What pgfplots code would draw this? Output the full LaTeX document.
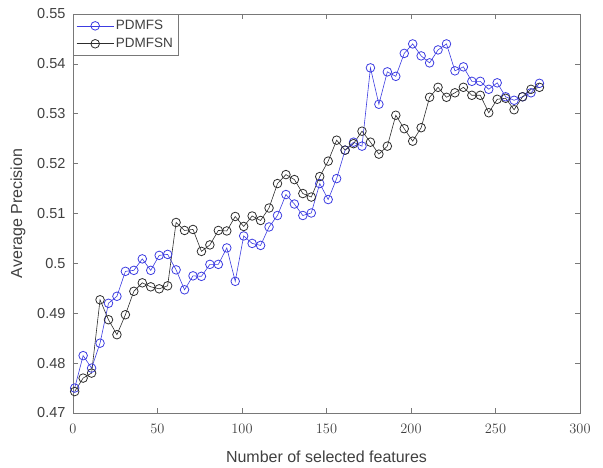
\documentclass[border=0pt]{standalone}
\usepackage{pgfplots}
\pgfplotsset{compat=1.18}
\usepackage{fontspec}
\setmainfont{Liberation Sans}
\definecolor{mblue}{RGB}{60,60,225}
\definecolor{mblack}{RGB}{45,45,45}
\definecolor{axgray}{RGB}{120,120,120}
\pgfplotstableread{
x y
1 0.4750
6 0.4815
11 0.4790
16 0.4840
21 0.4920
26 0.4934
31 0.4984
36 0.4986
41 0.5009
46 0.4986
51 0.5016
56 0.5018
61 0.4987
66 0.4947
71 0.4975
76 0.4974
81 0.4998
86 0.4998
91 0.5031
96 0.4964
101 0.5055
106 0.5040
111 0.5036
116 0.5073
121 0.5096
126 0.5138
131 0.5119
136 0.5096
141 0.5101
146 0.5160
151 0.5128
156 0.5170
161 0.5227
166 0.5243
171 0.5235
176 0.5392
181 0.5319
186 0.5384
191 0.5375
196 0.5421
201 0.5440
206 0.5416
211 0.5402
216 0.5428
221 0.5440
226 0.5386
231 0.5394
236 0.5365
241 0.5365
246 0.5349
251 0.5362
256 0.5334
261 0.5327
266 0.5334
271 0.5342
276 0.5361
}\pdmfs
\pgfplotstableread{
x y
1 0.4743
6 0.4770
11 0.4780
16 0.4927
21 0.4887
26 0.4857
31 0.4897
36 0.4944
41 0.4961
46 0.4953
51 0.4949
56 0.4955
61 0.5082
66 0.5066
71 0.5068
76 0.5024
81 0.5037
86 0.5066
91 0.5065
96 0.5094
101 0.5074
106 0.5095
111 0.5086
116 0.5111
121 0.5160
126 0.5178
131 0.5168
136 0.5140
141 0.5133
146 0.5174
151 0.5205
156 0.5247
161 0.5227
166 0.5240
171 0.5265
176 0.5243
181 0.5219
186 0.5235
191 0.5297
196 0.5270
201 0.5245
206 0.5272
211 0.5333
216 0.5353
221 0.5333
226 0.5342
231 0.5353
236 0.5337
241 0.5337
246 0.5302
251 0.5329
256 0.5331
261 0.5308
266 0.5334
271 0.5349
276 0.5353
}\pdmfsn
\begin{document}
\begin{tikzpicture}
\begin{axis}[
  scale only axis, width=507pt, height=399pt,
  xmin=0, xmax=300, ymin=0.47, ymax=0.55,
  xtick={0,50,100,150,200,250,300},
  ytick={0.47,0.48,0.49,0.50,0.51,0.52,0.53,0.54,0.55},
  yticklabels={0.47,0.48,0.49,0.5,0.51,0.52,0.53,0.54,0.55},
  tick align=inside, major tick length=5pt,
  axis line style={axgray, line width=0.9pt},
  tick style={axgray, line width=0.7pt},
  ticklabel style={font=\fontsize{14.5}{17}\selectfont, text=black!75},
  yticklabel style={xshift=-4pt},
  xticklabel style={yshift=-8pt},
  xlabel={Number of selected features},
  ylabel={Average Precision},
  label style={font=\fontsize{16}{19}\selectfont, text=black!75},
  xlabel style={yshift=-10pt},
  ylabel style={yshift=5pt},
  legend style={at={(0,1)}, anchor=north west, draw=axgray, line width=0.8pt,
    font=\fontsize{13.5}{16}\selectfont, text=black!75, inner xsep=3pt, inner ysep=4pt, row sep=3pt},
  legend cell align=left,
  legend image code/.code={\draw[mark repeat=2,mark phase=2] plot coordinates {(0cm,0cm) (0.65cm,0cm) (1.3cm,0cm)};},
]
\addplot[mblue, line width=0.6pt, mark=o, mark size=4.3pt, mark options={line width=0.8pt}] table[x=x,y=y]{\pdmfs};
\addlegendentry{PDMFS}
\addplot[mblack, line width=0.6pt, mark=o, mark size=4.3pt, mark options={line width=0.8pt}] table[x=x,y=y]{\pdmfsn};
\addlegendentry{PDMFSN}
\end{axis}
\pgfresetboundingbox
\path ([xshift=-73pt,yshift=-54pt]current axis.south west) rectangle ([xshift=23pt,yshift=14pt]current axis.north east);
\end{tikzpicture}
\end{document}
